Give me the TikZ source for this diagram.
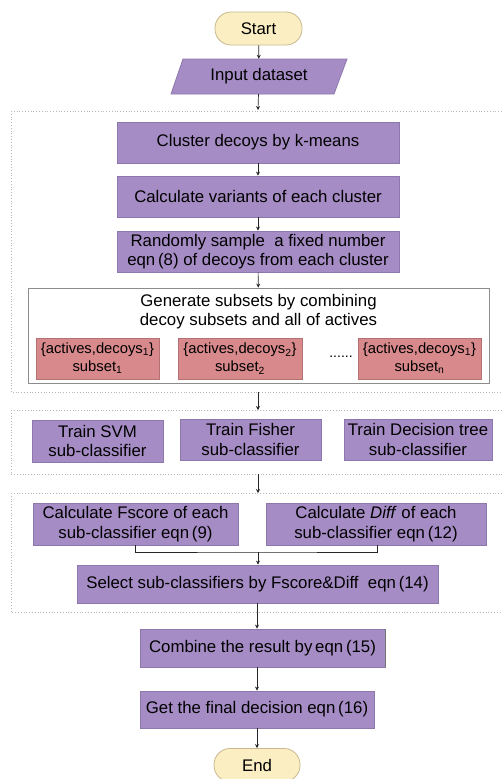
\documentclass[tikz,border=0pt]{standalone}
\usepackage{fontspec}
\setmainfont{Liberation Sans}
\usetikzlibrary{shapes.geometric,arrows.meta}
\definecolor{purp}{HTML}{A68CC5}
\definecolor{purpline}{HTML}{8C78AC}
\definecolor{redf}{HTML}{D8898B}
\definecolor{redline}{HTML}{B37174}
\definecolor{yel}{HTML}{FAEEC2}
\definecolor{yelline}{HTML}{C8B98E}
\definecolor{dotc}{HTML}{B8B8B8}
\begin{document}
\begin{tikzpicture}[x=1pt,y=-1pt,
  font=\fontsize{16.8}{19.5}\selectfont,
  pbox/.style={draw=purpline,fill=purp,line width=0.8pt,inner sep=0pt,align=center},
  rbox/.style={draw=redline,fill=redf,line width=0.8pt,inner sep=0pt,align=center,font=\fontsize{14.8}{18}\selectfont},
  term/.style={draw=yelline,fill=yel,line width=0.8pt,rounded corners=16pt,inner sep=0pt},
  grp/.style={draw=dotc,dotted,line width=0.8pt},
  arr/.style={-{Stealth[length=4pt,width=4pt]},line width=0.7pt,draw=black!85}]
\useasboundingbox (0,0) rectangle (502,779);
\clip (0,0) rectangle (502,779);
% group frames
\draw[grp] (11,111) -- (506,111) (11,111) -- (11,392) -- (506,392);
\draw[grp] (11,410) -- (506,410) (11,410) -- (11,474) -- (506,474);
\draw[grp] (11,493) -- (506,493) (11,493) -- (11,612) -- (506,612);
\coordinate (g1b) at (258,392);
\coordinate (g2t) at (258,410);
\coordinate (g2b) at (258,474);
\coordinate (g3t) at (258,493);
\coordinate (g1t) at (258,110);
\coordinate (ax) at (257,0);
% start
\node[term,minimum width=87pt,minimum height=33pt] (start) at (258.5,28.5) {Start};
\draw[draw=purpline,fill=purp,line width=0.8pt] (183,59) -- (347,59) -- (334,94) -- (171,94) -- cycle;
\node[minimum width=150pt,minimum height=35pt,inner sep=0pt] (input) at (259,76.5) {Input dataset};
\node[pbox,minimum width=282pt,minimum height=41pt] (cluster) at (258,142.5) {Cluster decoys by k-means};
\node[pbox,minimum width=282pt,minimum height=41pt] (variants) at (258,196.5) {Calculate variants of each cluster};
\node[pbox,minimum width=282pt,minimum height=41pt] (sample) at (258,251.5) {Randomly sample\ \ a fixed number\\eqn\,(8) of decoys from each cluster};
\node[draw=black!45,fill=white,line width=0.8pt,minimum width=461pt,minimum height=95pt,inner sep=0pt] (gen) at (258.5,335.5) {};
\node[align=center,anchor=north] (gentxt) at (258.5,290.5) {Generate subsets by combining\\decoy subsets and all of actives};
\node[rbox,minimum width=123pt,minimum height=41pt] (s1) at (97.5,358.5) {\{actives,decoys\textsubscript{1}\}\\subset\textsubscript{1}};
\node[rbox,minimum width=124pt,minimum height=41pt] (s2) at (240,358.5) {\{actives,decoys\textsubscript{2}\}\\subset\textsubscript{2}};
\node[rbox,minimum width=123pt,minimum height=41pt] (sn) at (419.5,358.5) {\{actives,decoys\textsubscript{1}\}\\subset\textsubscript{n}};
\node[font=\fontsize{14}{16}\selectfont] (dots) at (341,357) {......};
% train
\node[pbox,minimum width=131pt,minimum height=42pt] (svm) at (97.5,441) {Train SVM\\sub-classifier};
\node[pbox,minimum width=141pt,minimum height=41pt] (fisher) at (250.5,439.5) {Train Fisher\\sub-classifier};
\node[pbox,minimum width=148pt,minimum height=41pt] (dtree) at (418,439.5) {Train Decision tree\\sub-classifier};
% select
\node[pbox,minimum width=205pt,minimum height=42pt] (fscore) at (135.5,524) {Calculate Fscore of each\\sub-classifier eqn\,(9)};
\node[pbox,minimum width=220pt,minimum height=42pt] (diff) at (376,524) {Calculate \textit{Diff} of each\\sub-classifier eqn\,(12)};
\node[pbox,minimum width=361pt,minimum height=38pt] (select) at (257.5,584) {Select sub-classifiers by Fscore\&Diff\ \ eqn\,(14)};
\node[pbox,minimum width=245pt,minimum height=38pt] (combine) at (262.5,648) {Combine the result by\,eqn\,(15)};
\draw[draw=black!55,line width=1.2pt] (combine.north east) -- (combine.south east);
\node[pbox,minimum width=234pt,minimum height=37pt] (final) at (257,709.5) {Get the final decision eqn\,(16)};
\node[term,minimum width=86pt,minimum height=33pt] (end) at (257,765) {End};
\coordinate (join) at (258,552);
\coordinate (dj) at (377,0);
% connectors
\draw[arr] (start) -- (input);
\draw[arr] (input) -- (g1t);
\draw[arr] (cluster) -- (variants);
\draw[arr] (variants) -- (sample);
\draw[arr] (sample) -- (gen);
\draw[arr] (g1b) -- (g2t);
\draw[arr] (g2b) -- (g3t);
\draw[line width=0.7pt,draw=black!85] (fscore.south) |- (join) -| (diff.south -| dj);
\draw[arr] (join) -- (select.north -| join);
\draw[arr] (select.south -| ax) -- (combine.north -| ax);
\draw[arr] (combine.south -| ax) -- (final.north -| ax);
\draw[arr] (final) -- (end);
\end{tikzpicture}
\end{document}
